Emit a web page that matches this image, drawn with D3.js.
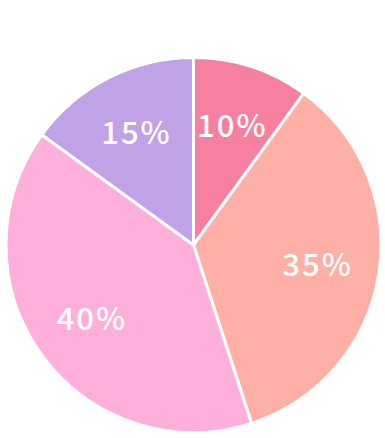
<!DOCTYPE html>
<html>
<head>
<meta charset="utf-8">
<script src="https://cdn.jsdelivr.net/npm/d3@7"></script>
<style>
  html, body { margin: 0; padding: 0; background: #fff; }
</style>
</head>
<body>
<div id="chart"></div>
<script>
// dati
const categories = ["A", "B", "C", "D"];
const values = [10, 35, 40, 15];
const labels = ["10%", "35%", "40%", "15%"];
const colors = ["#F780A1", "#FFB0A6", "#FFB0DA", "#C0A2E6"];

const width = 385, height = 438;
const radius = 187.5;
const cx = 193.5, cy = 245;

const svg = d3.select("#chart")
    .append("svg")
    .attr("width", width)
    .attr("height", height)
    .append("g")
    .attr("transform", `translate(${cx},${cy})`);

const data = categories.map((c, i) => ({ cat: c, value: values[i], label: labels[i], color: colors[i] }));

const pie = d3.pie()
    .sort(null)
    .value(d => d.value);

const arc = d3.arc()
    .innerRadius(0)
    .outerRadius(radius);

// etichette
const labelArc = d3.arc()
    .innerRadius(radius * 0.67)
    .outerRadius(radius * 0.67);

const arcs = pie(data);

svg.selectAll(".slice")
    .data(arcs)
    .enter()
    .append("path")
    .attr("class", "slice")
    .attr("d", arc)
    .attr("fill", d => d.data.color)
    .attr("stroke", "#fff")
    .attr("stroke-width", 3)
    .attr("stroke-linejoin", "round");

svg.selectAll(".lbl")
    .data(arcs)
    .enter()
    .append("text")
    .attr("class", "lbl")
    .attr("transform", d => `translate(${labelArc.centroid(d)})`)
    .attr("text-anchor", "middle")
    .attr("dy", "0.36em")
    .attr("fill", "#fff")
    .style("font-family", "'Noto Sans CJK JP', 'Noto Sans', sans-serif")
    .style("font-weight", 500)
    .style("font-size", "31px")
    .style("letter-spacing", "2px")
    .text(d => d.data.label);
</script>
</body>
</html>
